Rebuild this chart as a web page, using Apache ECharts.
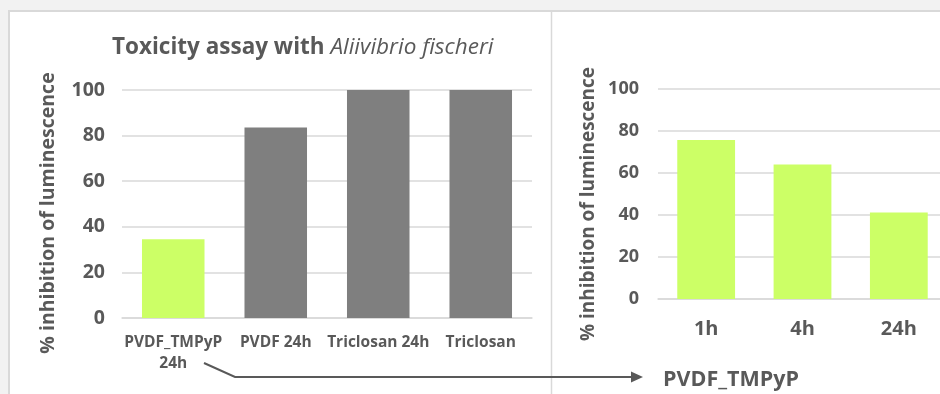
<!DOCTYPE html>
<html>
<head>
<meta charset="utf-8">
<script src="https://cdn.jsdelivr.net/npm/echarts@6/dist/echarts.min.js"></script>
<style>
  html, body { margin: 0; padding: 0; background: #f2f2f2; overflow: hidden; }
  /* the time-course panel runs slightly past the right edge of the view */
  #chart { width: 947px; height: 394px; }
</style>
</head>
<body>
<div id="chart"></div>
<script>
// Toxicity assay: overall comparison (left) and PVDF_TMPyP time course (right)
const leftCategories = ['PVDF_TMPyP\n24h', 'PVDF 24h', 'Triclosan 24h', 'Triclosan'];
const leftValues = [34.5, 83.5, 100, 100];
const rightCategories = ['1h', '4h', '24h'];
const rightValues = [75.7, 64, 41.2];
const yTicks = { min: 0, max: 100, interval: 20 };

const GREEN = '#ccff66';
const GRAY = '#7f7f7f';
const TEXT = '#595959';
const GRID_LINE = '#d9d9d9';
const FONT = '"Open Sans", "Noto Sans", sans-serif';

const chart = echarts.init(document.getElementById('chart'), null, { renderer: 'canvas' });

function valueAxis(gridIndex, fontSize, margin, nameSize, nameGap, nameShift) {
  return {
    type: 'value', gridIndex,
    min: yTicks.min, max: yTicks.max, interval: yTicks.interval,
    name: '% inhibition of luminescence',
    nameLocation: 'middle', nameRotate: 90, nameGap,
    nameTextStyle: {
      color: TEXT, fontFamily: FONT, fontWeight: 'bold', fontSize: nameSize,
      padding: [0, nameShift, 0, 0]
    },
    axisLine: { show: false }, axisTick: { show: false },
    axisLabel: { color: TEXT, fontFamily: FONT, fontWeight: 'bold', fontSize, margin },
    splitLine: { lineStyle: { color: GRID_LINE, width: 1.5 } }
  };
}

function categoryAxis(gridIndex, data, fontSize, margin, lineHeight) {
  return {
    type: 'category', gridIndex, data,
    axisLine: { lineStyle: { color: GRID_LINE, width: 1.5 } },
    axisTick: { show: false },
    axisLabel: { interval: 0, color: TEXT, fontFamily: FONT, fontWeight: 'bold', fontSize, margin, lineHeight }
  };
}

chart.setOption({
  backgroundColor: '#f2f2f2',
  animation: false,
  title: {
    left: 112, top: 36, padding: 0,
    text: '{b|Toxicity assay with }{i|Aliivibrio fischeri}',
    textStyle: {
      rich: {
        b: { fontFamily: FONT, fontWeight: 'bold', fontSize: 22.5, color: TEXT },
        i: { fontFamily: FONT, fontStyle: 'italic', fontWeight: 'normal', fontSize: 22.5, color: TEXT }
      }
    }
  },
  grid: [
    { left: 122, width: 410, top: 90, bottom: 76 },
    { left: 658, right: 0, top: 89, bottom: 95 }
  ],
  xAxis: [
    categoryAxis(0, leftCategories, 15.5, 14, 21),
    categoryAxis(1, rightCategories, 20, 18, 24)
  ],
  yAxis: [
    valueAxis(0, 19.5, 17, 19.5, 64, 18),
    valueAxis(1, 18, 19, 19, 60, 20)
  ],
  series: [
    {
      type: 'bar', xAxisIndex: 0, yAxisIndex: 0,
      data: leftValues, barWidth: '61%',
      itemStyle: { color: p => (p.name.indexOf('PVDF_TMPyP') === 0 ? GREEN : GRAY) }
    },
    {
      type: 'bar', xAxisIndex: 1, yAxisIndex: 1,
      data: rightValues, barWidth: '60%',
      itemStyle: { color: GREEN }
    }
  ],
  graphic: [
    // panel frames
    { type: 'rect', z: -10, shape: { x: 9, y: 11, width: 960, height: 390 },
      style: { fill: '#ffffff', stroke: GRID_LINE, lineWidth: 2 } },
    { type: 'line', z: -9, shape: { x1: 551.5, y1: 12, x2: 551.5, y2: 394 },
      style: { stroke: GRID_LINE, lineWidth: 1.5 } },
    // connector from the 24h bar to the time-course panel
    { type: 'polyline', z: 20, shape: { points: [[204, 363], [235, 377], [633, 377]] },
      style: { stroke: TEXT, lineWidth: 2, fill: null } },
    { type: 'polygon', z: 20, shape: { points: [[631, 371.5], [643, 377], [631, 382.5]] },
      style: { fill: TEXT } },
    { type: 'text', z: 20, x: 663, y: 380,
      style: { text: 'PVDF_TMPyP', fill: TEXT, font: 'bold 21.5px ' + FONT, textVerticalAlign: 'middle' } }
  ]
});
</script>
</body>
</html>
